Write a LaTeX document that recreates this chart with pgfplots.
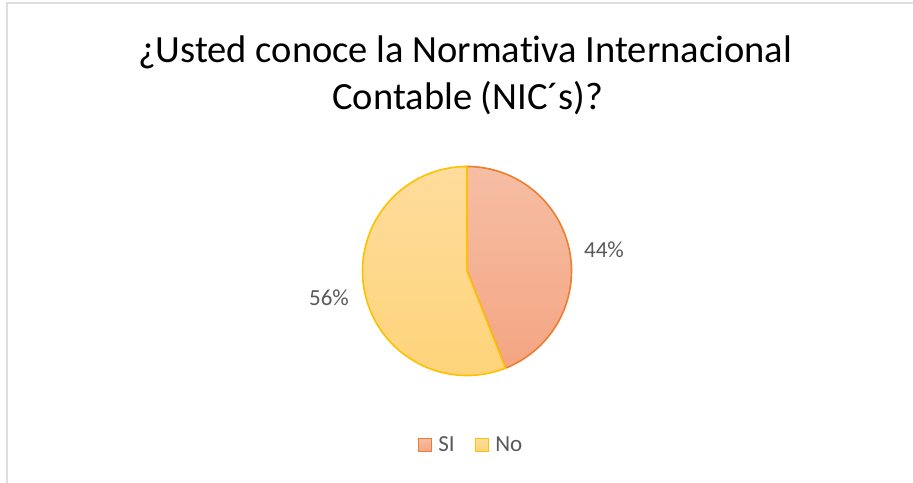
\documentclass[border=0pt]{standalone}
\usepackage{pgfplots}
\pgfplotsset{compat=1.18}
\usepackage{pgfplotstable}
\usepackage{fontspec}
\setmainfont{Carlito}[Ligatures={NoCommon}]
\definecolor{siEdge}{HTML}{ED7D31}
\definecolor{siTop}{HTML}{F6BEA4}
\definecolor{siBot}{HTML}{F4A582}
\definecolor{noEdge}{HTML}{FFC000}
\definecolor{noTop}{HTML}{FEDC9C}
\definecolor{noBot}{HTML}{FED47A}
\definecolor{lbl}{HTML}{595959}
\pgfplotstableread{
label value
SI 44
No 56
}\piedata
\pgfplotstablegetelem{0}{value}\of\piedata
\let\vSI\pgfplotsretval
\pgfplotstablegetelem{1}{value}\of\piedata
\let\vNo\pgfplotsretval
\pgfmathsetmacro{\aEnd}{90-\vSI*3.6}
\pgfmathsetmacro{\aNoEnd}{90+\vNo*3.6}
\def\cx{467}\def\cy{212}\def\rr{104.5}
\begin{document}
\begin{tikzpicture}
\begin{axis}[
  width=913bp, height=483bp, scale only axis,
  xmin=0, xmax=913, ymin=0, ymax=483,
  hide axis, clip=false,
  legend columns=2,
  legend style={draw=none, fill=none, at={(471/913,38/483)}, anchor=center,
    font=\fontsize{23bp}{26bp}\selectfont, text=lbl,
    /tikz/every odd column/.append style={column sep=4bp},
    /tikz/every even column/.append style={column sep=18bp}},
  legend image code/.code={\draw[#1] (0bp,-6.5bp) rectangle (13bp,6.5bp);},
]
\addplot[draw=siEdge, line width=1.6bp, top color=siTop, bottom color=siBot,
  domain=\aEnd:90, samples=90, variable=\t]
  ({\cx+\rr*cos(\t)}, {\cy+\rr*sin(\t)}) -- (axis cs:\cx,\cy) -- cycle;
\addlegendentry{SI}
\addplot[draw=noEdge, line width=1.6bp, top color=noTop, bottom color=noBot,
  domain=90:\aNoEnd, samples=110, variable=\t]
  ({\cx+\rr*cos(\t)}, {\cy+\rr*sin(\t)}) -- (axis cs:\cx,\cy) -- cycle;
\addlegendentry{No}
\node[text=lbl, font=\fontsize{23bp}{26bp}\selectfont] at (axis cs:604,233) {44\%};
\node[text=lbl, font=\fontsize{23bp}{26bp}\selectfont] at (axis cs:329,185) {56\%};
\node[align=center, font=\fontsize{38.5bp}{47bp}\selectfont, anchor=base] at (axis cs:465,420) {¿Usted conoce la Normativa Internacional};
\node[align=center, font=\fontsize{38.5bp}{47bp}\selectfont, anchor=base] at (axis cs:468,373) {Contable (NIC´s)?};
\draw[black!13, line width=2bp] (axis cs:7,0) -- (axis cs:7,480) -- (axis cs:913,480);
\end{axis}
\pgfresetboundingbox
\path[use as bounding box] (0,0) rectangle (913bp,483bp);
\end{tikzpicture}
\end{document}
